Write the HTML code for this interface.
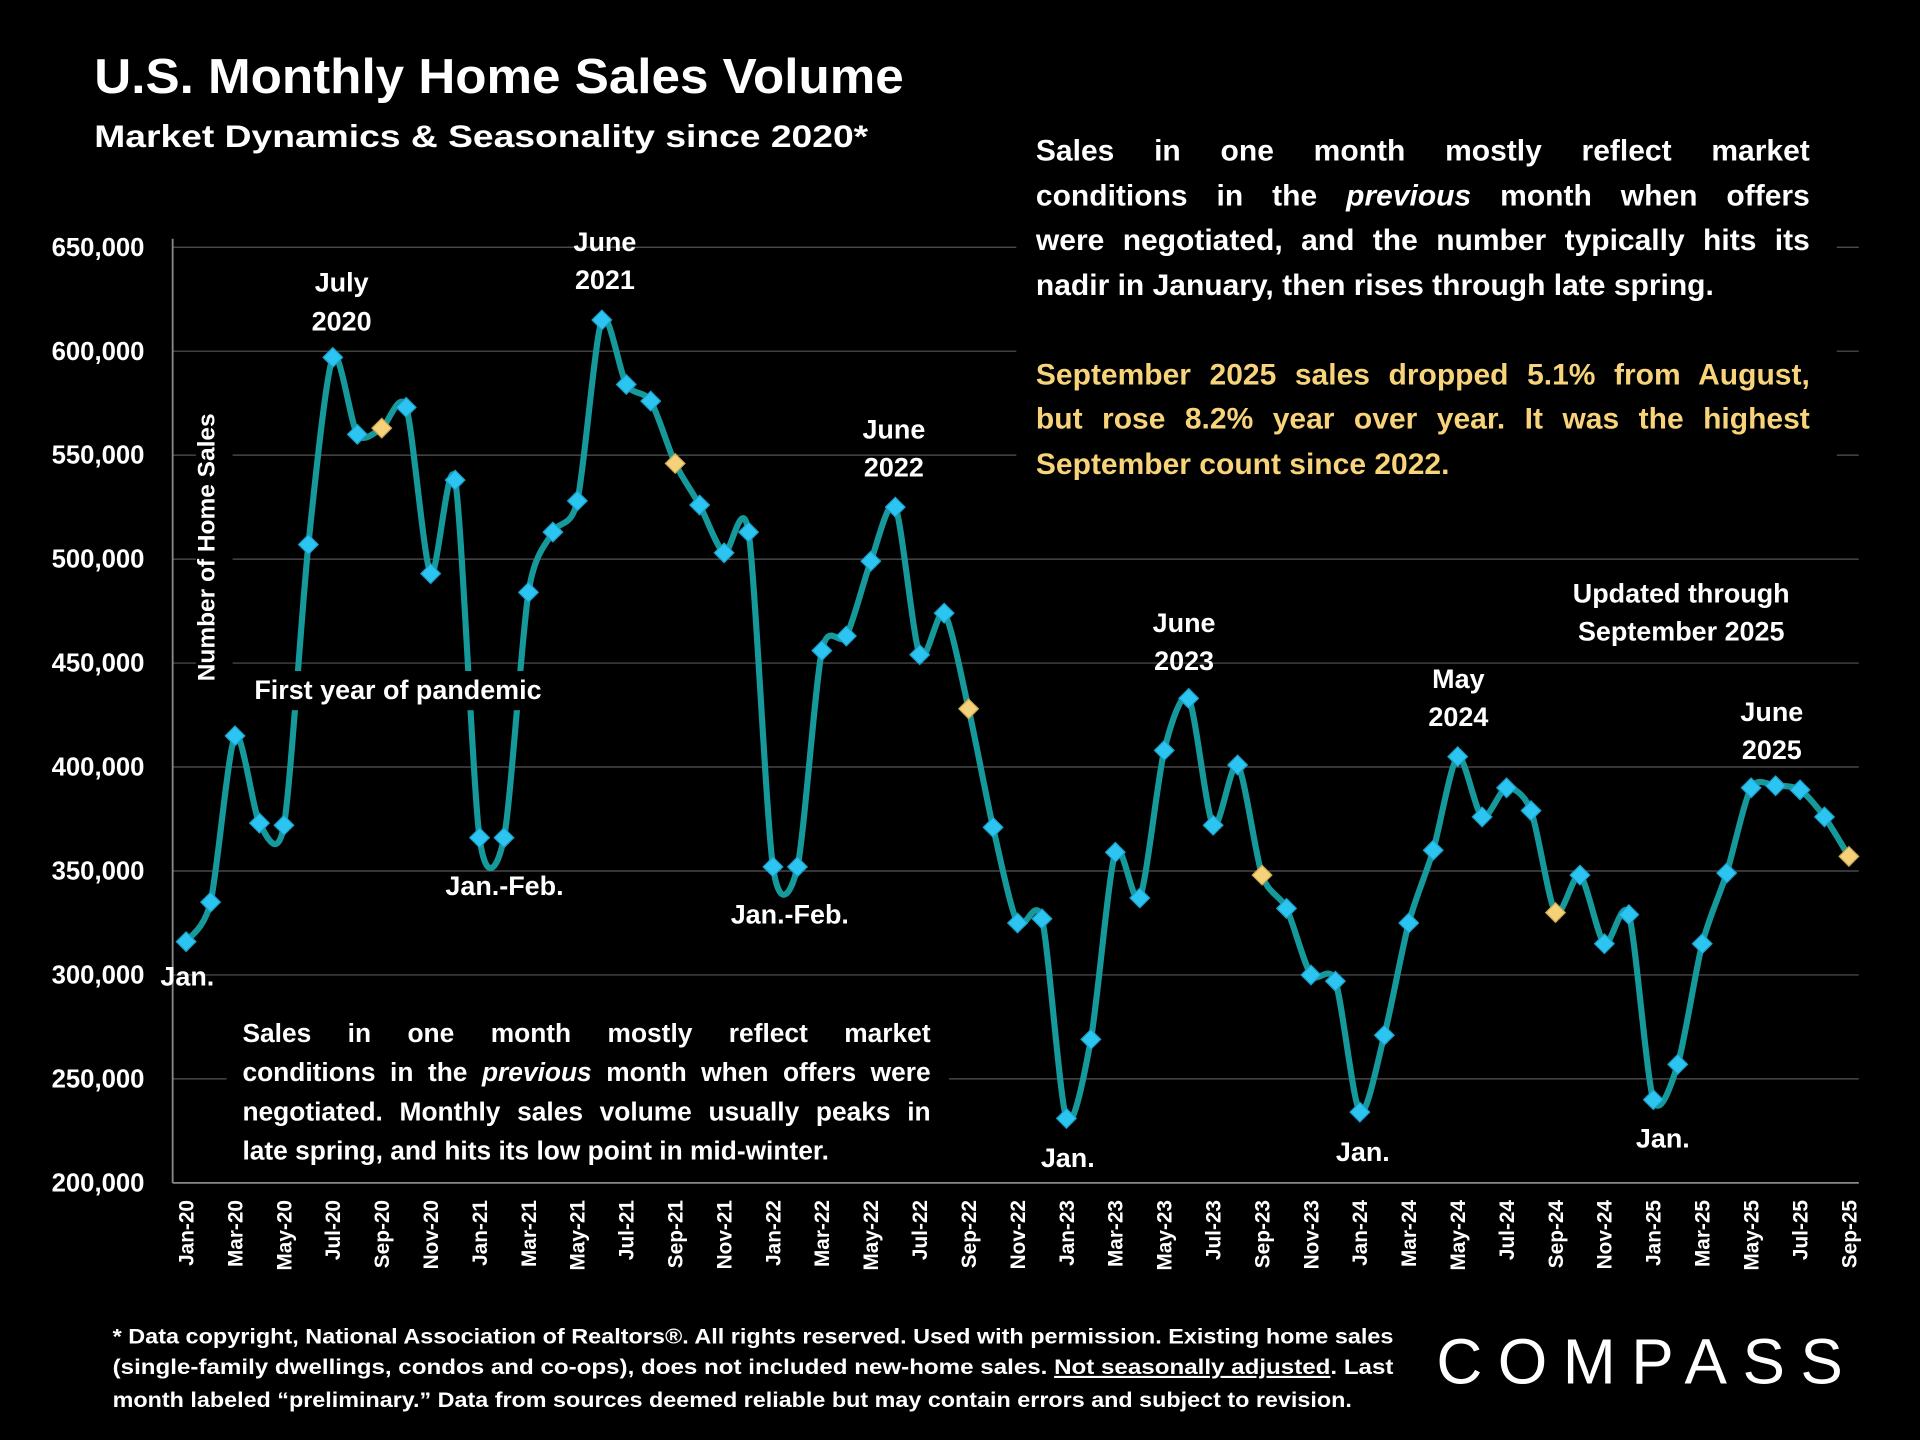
<!DOCTYPE html>
<html><head><meta charset="utf-8"><style>
html,body{margin:0;padding:0;background:#000;width:1920px;height:1440px;overflow:hidden}
svg{display:block}
text{font-family:"Liberation Sans",sans-serif;font-weight:bold;fill:#fff}
.b{font-family:"Liberation Sans",sans-serif;font-weight:bold;color:#fff}
.b div{text-align:justify;text-align-last:justify;white-space:nowrap}
.b div.l{text-align-last:left}
</style></head><body>
<svg id="s" width="1920" height="1440" viewBox="0 0 1568 1176">
<rect width="1568" height="1176" fill="#000"/>
<g id="grid" stroke="#555" stroke-width="1"></g>
<line x1="141" y1="195" x2="141" y2="966" stroke="#888" stroke-width="1.5"/>
<line x1="141" y1="966" x2="1518" y2="966" stroke="#888" stroke-width="1.5"/>
<g id="yl" font-size="21"></g>
<g id="xl" font-size="17"></g>
<path id="ln" fill="none" stroke="#16999b" stroke-width="5"/>
<g id="mk"></g>
<text x="77" y="76" font-size="40" textLength="661" lengthAdjust="spacingAndGlyphs">U.S. Monthly Home Sales Volume</text>
<text x="77" y="120" font-size="26" textLength="632" lengthAdjust="spacingAndGlyphs">Market Dynamics &amp; Seasonality since 2020*</text>
<rect x="830" y="105" width="670" height="300" fill="#000"/>
<foreignObject x="846" y="106" width="660" height="300">
<div xmlns="http://www.w3.org/1999/xhtml" class="b" style="font-size:24.5px;line-height:36.5px;width:632px">
<div>Sales in one month mostly reflect market</div>
<div>conditions in the <i>previous</i> month when offers</div>
<div>were negotiated, and the number typically hits its</div>
<div class="l">nadir in January, then rises through late spring.</div>
<div class="l">&#160;</div>
<div style="color:#f7d37a">September 2025 sales dropped 5.1% from August,</div>
<div style="color:#f7d37a">but rose 8.2% year over year. It was the highest</div>
<div class="l" style="color:#f7d37a">September count since 2022.</div>
</div></foreignObject>
<rect x="185" y="825" width="590" height="135" fill="#000"/>
<foreignObject x="198" y="828" width="580" height="135">
<div xmlns="http://www.w3.org/1999/xhtml" class="b" style="font-size:21.5px;line-height:32px;width:562px">
<div>Sales in one month mostly reflect market</div>
<div>conditions in the <i>previous</i> month when offers were</div>
<div>negotiated. Monthly sales volume usually peaks in</div>
<div class="l">late spring, and hits its low point in mid-winter.</div>
</div></foreignObject>
<rect x="160" y="330" width="30" height="235" fill="#000"/>
<text transform="translate(175,447) rotate(-90)" font-size="20" text-anchor="middle">Number of Home Sales</text>
<rect x="200" y="548" width="250" height="32" fill="#000"/>
<g font-size="22" text-anchor="middle">
<text x="325" y="571">First year of pandemic</text>
<text x="279" y="238">July</text><text x="279" y="270">2020</text>
<text x="494" y="205">June</text><text x="494" y="236">2021</text>
<text x="730" y="358">June</text><text x="730" y="389">2022</text>
<text x="967" y="516">June</text><text x="967" y="547">2023</text>
<text x="1191" y="562">May</text><text x="1191" y="593">2024</text>
<text x="1447" y="589">June</text><text x="1447" y="620">2025</text>
<text x="1373" y="492">Updated through</text><text x="1373" y="523">September 2025</text>
<text x="153" y="805">Jan.</text>
<text x="412" y="731">Jan.-Feb.</text>
<text x="645" y="754">Jan.-Feb.</text>
<text x="872" y="953">Jan.</text>
<text x="1113" y="948">Jan.</text>
<text x="1358" y="937">Jan.</text>
</g>
<g font-size="17.5">
<text x="92" y="1097" textLength="1046" lengthAdjust="spacingAndGlyphs">* Data copyright, National Association of Realtors®. All rights reserved. Used with permission. Existing home sales</text>
<text x="92" y="1122" textLength="1046" lengthAdjust="spacingAndGlyphs">(single-family dwellings, condos and co-ops), does not included new-home sales. <tspan text-decoration="underline">Not seasonally adjusted</tspan>. Last</text>
<text x="92" y="1149" textLength="1012" lengthAdjust="spacingAndGlyphs">month labeled “preliminary.” Data from sources deemed reliable but may contain errors and subject to revision.</text>
</g>
<text x="1173" y="1130" font-size="52" style="font-weight:normal" textLength="332" lengthAdjust="spacing">COMPASS</text>
</svg>
<script>
var d=[316,335,415,373,372,507,597,560,563,573,493,538,366,366,484,513,528,615,584,576,546,526,503,513,352,352,456,463,499,525,454,474,428,371,325,327,231,269,359,337,408,433,372,401,348,332,300,297,234,271,325,360,405,376,390,379,330,348,315,329,240,257,315,349,390,391,389,376,357];
var yel={8:1,20:1,32:1,44:1,56:1,68:1};
var mon=["Jan","Mar","May","Jul","Sep","Nov"];
function X(i){return 152+i*19.97}
function Y(v){return 966-(v-200)/50*84.9}
var ns="http://www.w3.org/2000/svg";
function el(p,t,a,tx){var e=document.createElementNS(ns,t);for(var k in a)e.setAttribute(k,a[k]);if(tx)e.textContent=tx;document.getElementById(p).appendChild(e);}
for(var v=200;v<=650;v+=50){el("grid","line",{x1:141,x2:1518,y1:Y(v),y2:Y(v)});el("yl","text",{x:118,y:Y(v)+7,"text-anchor":"end"},v+",000");}
for(var i=0;i<d.length;i+=2){var yr=20+Math.floor(i/12);var lab=mon[(i%12)/2]+"-"+yr;el("xl","text",{transform:"translate("+(X(i)+6)+",980) rotate(-90)","text-anchor":"end"},lab);}
var p="M"+X(0)+","+Y(d[0]);
for(var i=0;i<d.length-1;i++){var p0=[X(Math.max(i-1,0)),Y(d[Math.max(i-1,0)])],p1=[X(i),Y(d[i])],p2=[X(i+1),Y(d[i+1])],p3=[X(Math.min(i+2,d.length-1)),Y(d[Math.min(i+2,d.length-1)])];
var t=0.4/3;p+=" C"+(p1[0]+(p2[0]-p0[0])*t)+","+(p1[1]+(p2[1]-p0[1])*t)+" "+(p2[0]-(p3[0]-p1[0])*t)+","+(p2[1]-(p3[1]-p1[1])*t)+" "+p2[0]+","+p2[1];}
document.getElementById("ln").setAttribute("d",p);
for(var i=0;i<d.length;i++){var x=X(i),y=Y(d[i]),r=8;el("mk","polygon",{points:x+","+(y-r)+" "+(x+r)+","+y+" "+x+","+(y+r)+" "+(x-r)+","+y,fill:yel[i]?"#f5d27a":"#2cc4f0",stroke:yel[i]?"#c9a850":"#1aa0c8","stroke-width":1});}
</script>
</body></html>
